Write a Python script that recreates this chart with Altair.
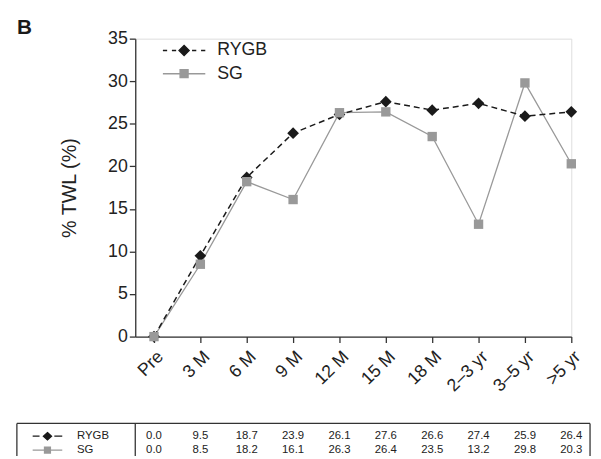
import json
import altair as alt
import pandas as pd

categories = ["Pre", "3 M", "6 M", "9 M", "12 M", "15 M", "18 M", "2–3 yr", "3–5 yr", ">5 yr"]
series_names = ["RYGB", "SG"]
rygb = [0.0, 9.5, 18.7, 23.9, 26.1, 27.6, 26.6, 27.4, 25.9, 26.4]
sg = [0.0, 8.5, 18.2, 16.1, 26.3, 26.4, 23.5, 13.2, 29.8, 20.3]
y_ticks = [0, 5, 10, 15, 20, 25, 30, 35]

rows = []
for name, vals in zip(series_names, [rygb, sg]):
    for i, (c, v) in enumerate(zip(categories, vals)):
        rows.append({"idx": i, "period": c, "series": name, "value": v})
df = pd.DataFrame(rows)
one = pd.DataFrame({"series": series_names})

FONT = "Liberation Sans"
BLACK = "#1a1a1a"
GREY = "#999999"
AX = "#333333"

W, H = 442, 302
label_expr = "[" + ",".join(json.dumps(c, ensure_ascii=False) for c in categories) + "][datum.value]"

x_enc = alt.X("idx:Q",
              scale=alt.Scale(domain=[-0.404, 9], nice=False, zero=False),
              axis=alt.Axis(values=list(range(len(categories))), labelExpr=label_expr,
                            labelAngle=-45, labelFontSize=18, labelPadding=5, tickSize=6,
                            labelOverlap=False, labelBound=False, labelFlush=False,
                            title=None, grid=False, labelFont=FONT, labelColor="#222",
                            domainColor=AX, tickColor=AX, domainWidth=1.3, tickWidth=1.3))
y_enc = alt.Y("value:Q",
              scale=alt.Scale(domain=[0, 35], nice=False),
              axis=alt.Axis(values=y_ticks, tickSize=6, labelFontSize=18, labelPadding=2,
                            labelOverlap=False,
                            title="% TWL (%)", titleFontSize=20, titleFontWeight="normal",
                            titleFont=FONT, titleColor="#222", titleX=-67, titleY=151,
                            titleAlign="center", titleBaseline="middle", titleAngle=-90,
                            grid=False, labelFont=FONT, labelColor="#222",
                            domainColor=AX, tickColor=AX, domainWidth=1.3, tickWidth=1.3))

base = alt.Chart(df)

sg_line = base.transform_filter(alt.datum.series == "SG").mark_line(
    color=GREY, strokeWidth=1.3).encode(x=x_enc, y=y_enc)
rygb_line = base.transform_filter(alt.datum.series == "RYGB").mark_line(
    color=BLACK, strokeWidth=1.5, strokeDash=[6, 4]).encode(x="idx:Q", y="value:Q")
rygb_pts = base.transform_filter(alt.datum.series == "RYGB").mark_point(
    shape="diamond", filled=True, size=140, color=BLACK, opacity=1).encode(x="idx:Q", y="value:Q")
sg_pts = base.transform_filter(alt.datum.series == "SG").mark_point(
    shape="square", filled=True, size=90, color=GREY, opacity=1).encode(x="idx:Q", y="value:Q")

# Legend (native) with combined line+marker symbols
leg_paths = [
    "M-2,0H-1.6M-1.15,0H-0.75M0.75,0H1.15M1.6,0H2M0,-0.47L0.47,0L0,0.47L-0.47,0Z",
    "M-2,0H2M-0.37,-0.37H0.37V0.37H-0.37Z",
]
leg = alt.Legend(orient="none", legendX=38, legendY=0.5, title=None, symbolSize=462,
                 symbolStrokeWidth=1.5, labelFontSize=18, labelFont=FONT, labelColor="#222",
                 labelOffset=22, rowPadding=2.5, padding=0, symbolOpacity=1)
legend_layer = base.mark_point(filled=True, opacity=0).encode(
    x="idx:Q", y="value:Q",
    shape=alt.Shape("series:N", scale=alt.Scale(domain=series_names, range=leg_paths), legend=leg),
    fill=alt.Fill("series:N", scale=alt.Scale(domain=series_names, range=[BLACK, GREY]), legend=leg),
    stroke=alt.Stroke("series:N", scale=alt.Scale(domain=series_names, range=[BLACK, GREY]), legend=leg),
)

# Table below the chart
TOP, BOT = 390, 423
LEFT, DIV, RIGHT = -120, 0, 461
ROW_Y = {"RYGB": 403, "SG": 417}
rule_data = alt.Chart(pd.DataFrame({"k": [0]}))
rules = [
    rule_data.mark_rule(color=AX, strokeWidth=1.3).encode(x=alt.value(LEFT), x2=alt.value(RIGHT), y=alt.value(TOP)),
    rule_data.mark_rule(color=AX, strokeWidth=1.3).encode(x=alt.value(LEFT), y=alt.value(TOP), y2=alt.value(BOT)),
    rule_data.mark_rule(color=AX, strokeWidth=1.3).encode(x=alt.value(DIV), y=alt.value(TOP), y2=alt.value(BOT)),
    rule_data.mark_rule(color=AX, strokeWidth=1.3).encode(x=alt.value(RIGHT), y=alt.value(TOP), y2=alt.value(BOT)),
]

tab_paths = {
    "RYGB": "M-2,0H-1.07M0.93,0H2M0,-0.5L0.55,0L0,0.5L-0.55,0Z",
    "SG": "M-2,0H2M-0.4,-0.4H0.4V0.4H-0.4Z",
}
tab_colors = {"RYGB": BLACK, "SG": GREY}
table_layers = []
for name in series_names:
    table_layers.append(
        base.transform_filter(alt.datum.series == name).mark_text(
            fontSize=11.5, font=FONT, color="#222", align="center", baseline="middle"
        ).encode(x="idx:Q", y=alt.value(ROW_Y[name]), text=alt.Text("value:Q", format=".1f"))
    )
    sub = alt.Chart(one).transform_filter(alt.datum.series == name)
    table_layers.append(
        sub.mark_text(fontSize=11.5, font=FONT, color="#222", align="left", baseline="middle").encode(
            x=alt.value(-59), y=alt.value(ROW_Y[name]), text="series:N")
    )
    table_layers.append(
        sub.mark_point(shape=tab_paths[name], filled=True, size=225, fill=tab_colors[name],
                       stroke=tab_colors[name], strokeWidth=1.3, opacity=1).encode(
            x=alt.value(-89), y=alt.value(ROW_Y[name]))
    )

chart = alt.layer(sg_line, rygb_line, rygb_pts, sg_pts, legend_layer, *rules, *table_layers).properties(
    width=W, height=H,
    title=alt.TitleParams("B", anchor="start", frame="group", dx=-120, dy=25, offset=0,
                          fontSize=21, fontWeight="bold", font=FONT, color="#1a1a1a",
                          baseline="alphabetic"),
    autosize=alt.AutoSizeParams(type="none"),
    padding={"left": 129, "top": 28, "right": 22, "bottom": 121},
).configure_view(stroke=None).configure(background="white")

chart.save("out.html", embed_options={"renderer": "svg", "actions": False})
